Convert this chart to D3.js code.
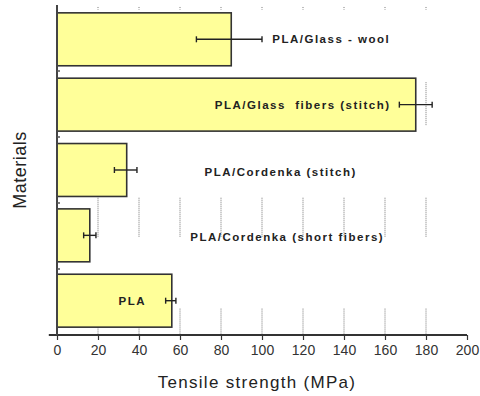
<!DOCTYPE html>
<html>
<head>
<meta charset="utf-8">
<script src="https://cdn.jsdelivr.net/npm/d3@7"></script>
<style>
  body { margin: 0; background: #fff; }
  svg { display: block; font-family: "Liberation Sans", Arial, sans-serif; }
</style>
</head>
<body>
<svg id="chart" width="480" height="396"></svg>
<script>
// data
const materials = ["PLA/Glass - wool", "PLA/Glass  fibers (stitch)", "PLA/Cordenka (stitch)", "PLA/Cordenka (short fibers)", "PLA"];
const strength = [85, 175, 34, 16, 56];
const errorLow = [68, 167, 28, 13, 53];
const errorHigh = [100, 183, 39, 19, 58];
const labelAt = [105, 77, 72, 65, 30];   // where each label starts, in MPa
const xTicks = [0, 20, 40, 60, 80, 100, 120, 140, 160, 180, 200];
const gridValues = [20, 40, 60, 80, 100, 120, 140, 160, 180];
// visible pieces of the dotted grid, in row units (0 = top, 5 = axis)
const gridSpans = [[0.03, 0.07], [2.92, 3.52], [4.6, 5]];
const gridSpans180 = [[1.17, 1.82]];

const svg = d3.select("#chart");
const margin = { top: 5, right: 13, bottom: 61, left: 57 };
const width = 480 - margin.left - margin.right;
const height = 396 - margin.top - margin.bottom;

const g = svg.append("g").attr("transform", `translate(${margin.left},${margin.top})`);

const x = d3.scaleLinear().domain([0, 200]).range([0, width]);
const y = d3.scaleBand().domain(materials).range([0, height]).paddingInner(0.19).paddingOuter(0.12);
const row = d3.scaleLinear().domain([0, materials.length]).range([0, height]);

const rows = materials.map((m, i) => ({ key: m, value: strength[i], lo: errorLow[i], hi: errorHigh[i], at: labelAt[i] }));

// dotted grid
const gridPieces = [];
gridValues.forEach(v => gridSpans.forEach(s => gridPieces.push({ v, s })));
gridSpans180.forEach(s => gridPieces.push({ v: 180, s }));

g.selectAll(".grid")
    .data(gridPieces)
    .enter().append("line")
    .attr("class", "grid")
    .attr("x1", d => x(d.v)).attr("x2", d => x(d.v))
    .attr("y1", d => row(d.s[0])).attr("y2", d => row(d.s[1]))
    .attr("stroke", "#777")
    .attr("stroke-width", 1)
    .attr("stroke-dasharray", "1,1");

// bars
g.selectAll(".bar")
    .data(rows)
    .enter().append("rect")
    .attr("class", "bar")
    .attr("x", x(0))
    .attr("y", d => y(d.key))
    .attr("width", d => x(d.value) - x(0))
    .attr("height", y.bandwidth())
    .attr("fill", "#ffff99")
    .attr("stroke", "#333")
    .attr("stroke-width", 1.6);

// error bars
const err = g.selectAll(".err").data(rows).enter().append("g").attr("class", "err")
    .attr("stroke", "#222").attr("stroke-width", 1.4);
err.append("line")
    .attr("x1", d => x(d.lo)).attr("x2", d => x(d.hi))
    .attr("y1", d => y(d.key) + y.bandwidth() / 2).attr("y2", d => y(d.key) + y.bandwidth() / 2);
err.append("line")
    .attr("x1", d => x(d.lo)).attr("x2", d => x(d.lo))
    .attr("y1", d => y(d.key) + y.bandwidth() / 2 - 3).attr("y2", d => y(d.key) + y.bandwidth() / 2 + 3);
err.append("line")
    .attr("x1", d => x(d.hi)).attr("x2", d => x(d.hi))
    .attr("y1", d => y(d.key) + y.bandwidth() / 2 - 3).attr("y2", d => y(d.key) + y.bandwidth() / 2 + 3);

// labels
g.selectAll(".key-label")
    .data(rows)
    .enter().append("text")
    .attr("class", "key-label")
    .attr("x", d => x(d.at))
    .attr("y", d => y(d.key) + y.bandwidth() / 2 + (d.key.startsWith("PLA/Cordenka") ? 2 : 0))
    .attr("dy", ".35em")
    .attr("fill", "#222")
    .style("font-size", "11.5px")
    .style("font-weight", "bold")
    .style("letter-spacing", "1.5px")
    .attr("xml:space", "preserve")
    .text(d => d.key);

// x axis
const gX = g.append("g").attr("transform", `translate(0,${height})`);
gX.call(d3.axisBottom(x).tickValues(d3.range(-4, 201, 4)).tickFormat("").tickSize(3).tickSizeOuter(0));
gX.call(d3.axisBottom(x).tickValues(xTicks).tickSize(5).tickSizeOuter(0).tickPadding(5));
gX.selectAll(".domain").remove();
gX.append("line")
    .attr("x1", x(-4)).attr("x2", x(200))
    .attr("stroke", "#333").attr("stroke-width", 2);
gX.selectAll(".tick line").attr("stroke", "#333").attr("stroke-width", 1.2);
gX.selectAll(".tick text")
    .attr("fill", "#333")
    .style("font-size", "14px")
    .style("font-family", "'Liberation Sans', Arial, sans-serif");

// y axis
const gY = g.append("g");
gY.append("line")
    .attr("x1", 0).attr("x2", 0).attr("y1", 0).attr("y2", height)
    .attr("stroke", "#444").attr("stroke-width", 2);
gY.selectAll(".ytick")
    .data(d3.range(1, materials.length))
    .enter().append("line")
    .attr("x1", 0).attr("x2", 3)
    .attr("y1", d => row(d)).attr("y2", d => row(d))
    .attr("stroke", "#555").attr("stroke-width", 1.5);

// axis titles
svg.append("text")
    .attr("x", margin.left + x(100) - 5)
    .attr("y", 388)
    .attr("text-anchor", "middle")
    .attr("fill", "#222")
    .style("font-size", "17px")
    .style("letter-spacing", "1.3px")
    .text("Tensile strength (MPa)");

svg.append("text")
    .attr("transform", `translate(26,170) rotate(-90)`)
    .attr("text-anchor", "middle")
    .attr("fill", "#222")
    .style("font-size", "18px")
    .style("letter-spacing", "0.5px")
    .text("Materials");
</script>
</body>
</html>
